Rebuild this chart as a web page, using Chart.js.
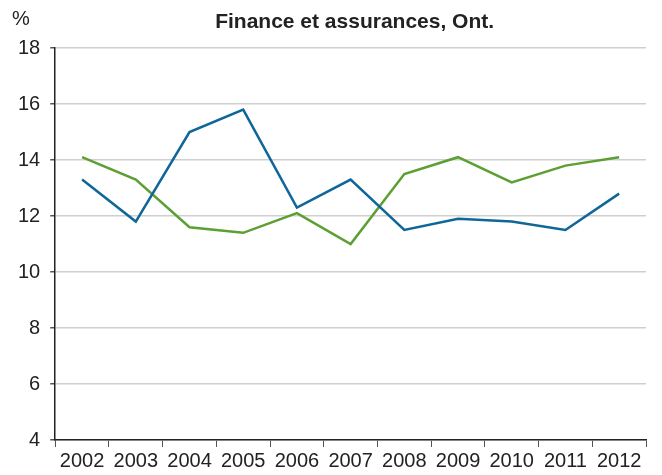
<!DOCTYPE html>
<html>
<head>
<meta charset="utf-8">
<script src="https://cdn.jsdelivr.net/npm/chart.js@4/dist/chart.umd.min.js"></script>
<style>
  html, body { margin: 0; padding: 0; background: #fff; }
  #wrap { width: 662px; height: 475px; }
</style>
</head>
<body>
<div id="wrap"><canvas id="lineChart"></canvas></div>
<script>
var years = ['2002', '2003', '2004', '2005', '2006', '2007', '2008', '2009', '2010', '2011', '2012'];
var blueSeries = [13.3, 11.8, 15.0, 15.8, 12.3, 13.3, 11.5, 11.9, 11.8, 11.5, 12.8];
var greenSeries = [14.1, 13.3, 11.6, 11.4, 12.1, 11.0, 13.5, 14.1, 13.2, 13.8, 14.1];
var yTicks = [4, 6, 8, 10, 12, 14, 16, 18];
var chartTitle = 'Finance et assurances, Ont.';
var unitLabel = '%';

var fontFamily = '"Liberation Sans", Arial, Helvetica, sans-serif';

// title and % drawn over the plot area
var headerPlugin = {
	id: 'header',
	afterDraw: function(chart) {
		var c = chart.ctx, area = chart.chartArea;
		c.save();
		c.fillStyle = '#222';
		c.textBaseline = 'middle';
		c.font = 'bold 21px ' + fontFamily;
		c.textAlign = 'center';
		c.fillText(chartTitle, (area.left + area.right) / 2 + 4, 22);
		c.font = '20px ' + fontFamily;
		c.textAlign = 'left';
		c.fillText(unitLabel, 12, 19);
		c.restore();
	}
};

var ctx = document.getElementById('lineChart').getContext('2d');
var lineChart = new Chart(ctx, {
	type: 'line',
	data: {
		labels: years,
		datasets: [{
			label: 'Bleu',
			data: blueSeries,
			fill: false,
			borderColor: '#0f6699',
			backgroundColor: '#0f6699',
			borderWidth: 2.5,
			pointRadius: 0,
			tension: 0
		}, {
			label: 'Vert',
			data: greenSeries,
			fill: false,
			borderColor: '#5c9f33',
			backgroundColor: '#5c9f33',
			borderWidth: 2.5,
			pointRadius: 0,
			tension: 0
		}]
	},
	options: {
		responsive: true,
		maintainAspectRatio: false,
		animation: false,
		layout: {
			padding: { top: 48, right: 16, left: 8, bottom: 0 }
		},
		plugins: {
			legend: { display: false },
			tooltip: { enabled: false }
		},
		scales: {
			x: {
				offset: true,
				grid: {
					offset: true,
					drawOnChartArea: false,
					drawTicks: true,
					tickLength: 7,
					tickColor: '#555'
				},
				border: { color: '#222', width: 1.5 },
				ticks: {
					color: '#222',
					padding: 2,
					maxRotation: 0,
					autoSkip: false,
					font: { family: fontFamily, size: 20 }
				}
			},
			y: {
				min: yTicks[0],
				max: yTicks[yTicks.length - 1],
				afterBuildTicks: function(scale) {
					scale.ticks = yTicks.map(function(v) { return { value: v }; });
				},
				grid: {
					color: '#cfcfcf',
					lineWidth: 1.5,
					tickColor: '#555',
					tickLength: 5
				},
				border: { color: '#222', width: 1.5 },
				ticks: {
					color: '#222',
					padding: 10,
					font: { family: fontFamily, size: 20 }
				}
			}
		}
	},
	plugins: [headerPlugin]
});
</script>
</body>
</html>
